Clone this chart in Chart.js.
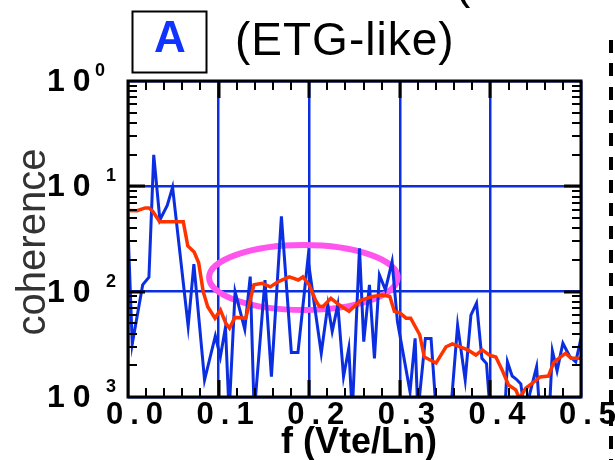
<!DOCTYPE html>
<html>
<head>
<meta charset="utf-8">
<script src="https://cdn.jsdelivr.net/npm/chart.js@4/dist/chart.umd.min.js"></script>
<style>
html,body{margin:0;padding:0;background:#fff;}
canvas{display:block;}
</style>
</head>
<body>
<canvas id="c" width="615" height="460"></canvas>
<script>
// ---- data ----
const freqBlue = [0.000,0.0047,0.0162,0.0231,0.0284,0.0352,0.0433,0.0492,0.0664,0.0727,0.0845,0.0964,0.1019,0.1076,0.1116,0.1182,0.1289,0.1349,0.1393,0.1512,0.1583,0.1693,0.1803,0.1876,0.1986,0.2133,0.2206,0.2254,0.2316,0.2379,0.2437,0.2475,0.2555,0.2602,0.2665,0.2720,0.2775,0.2841,0.2915,0.2974,0.3113,0.3169,0.3199,0.3282,0.3345,0.3403,0.3560,0.3638,0.3722,0.3785,0.3847,0.3906,0.3957,0.3998,0.4158,0.4188,0.4240,0.4284,0.4336,0.4380,0.4510,0.4545,0.4650,0.4684,0.4736,0.4800,0.4873,0.4942,0.5000];
const cohBlue  = [0.040,0.0032,0.0116,0.0137,0.199,0.048,0.066,0.098,0.0047,0.0183,0.00145,0.0038,0.0024,0.0046,0.0007,0.0100,0.0044,0.0139,0.0007,0.0129,0.00156,0.052,0.00265,0.00265,0.0205,0.0026,0.0075,0.0042,0.0075,0.00156,0.0029,0.0007,0.0258,0.00335,0.0116,0.00233,0.0144,0.0104,0.0193,0.0052,0.00112,0.0036,0.0007,0.0036,0.0036,0.0007,0.0007,0.0048,0.00145,0.0060,0.0078,0.00233,0.00208,0.0007,0.0007,0.00216,0.00158,0.00148,0.00133,0.0007,0.00194,0.0007,0.0007,0.00274,0.00177,0.00324,0.00245,0.00216,0.0036];
const freqRed = [0.000,0.010,0.019,0.023,0.027,0.035,0.061,0.066,0.073,0.078,0.083,0.088,0.096,0.102,0.108,0.112,0.118,0.130,0.139,0.148,0.157,0.166,0.178,0.188,0.193,0.200,0.207,0.211,0.215,0.224,0.233,0.244,0.257,0.270,0.281,0.289,0.294,0.300,0.307,0.312,0.322,0.327,0.340,0.351,0.358,0.375,0.384,0.391,0.399,0.406,0.413,0.420,0.428,0.432,0.439,0.446,0.455,0.464,0.470,0.478,0.483,0.489,0.500];
const cohRed  = [0.059,0.0588,0.0624,0.0624,0.0583,0.0462,0.0462,0.0272,0.0238,0.0188,0.0100,0.0072,0.0056,0.0067,0.0050,0.0045,0.0057,0.0056,0.0116,0.0120,0.0111,0.01245,0.0138,0.0129,0.0138,0.0116,0.0083,0.0073,0.0072,0.00865,0.0075,0.0065,0.0083,0.0090,0.0093,0.0090,0.0065,0.0063,0.0056,0.0056,0.0039,0.0024,0.0021,0.0030,0.0032,0.0028,0.0025,0.0028,0.0025,0.0024,0.0018,0.0013,0.00117,0.00097,0.00121,0.00135,0.00155,0.00158,0.00213,0.00242,0.0026,0.00233,0.00233];
const xTickValues = [0, 0.1, 0.2, 0.3, 0.4, 0.5];
const xTickLabels = ['0.0','0.1','0.2','0.3','0.4','0.5'];
const yDecades = [1, 0.1, 0.01, 0.001];
const yExponents = ['0','1','2','3'];
const ellipseFreq = [0.0895, 0.2976];
const ellipseCoh = [0.0067, 0.0277];
const panelLetter = 'A';
const panelTitle = '(ETG-like)';
const xTitle = 'f (Vte/Ln)';
const yTitle = 'coherence';

const BLUE = '#0a2ee0', RED = '#ff3300', MAG = '#ff55ee', FONT = '"Liberation Sans", Arial, Helvetica, sans-serif';

function pts(xs, ys){ return xs.map((x,i)=>({x:x, y:ys[i]})); }

const decor = {
  id: 'decor',
  beforeDatasetsDraw(chart){
    const {ctx, scales:{x, y}} = chart;
    const x0 = x.getPixelForValue(ellipseFreq[0]), x1 = x.getPixelForValue(ellipseFreq[1]);
    const y0 = y.getPixelForValue(ellipseCoh[0]), y1 = y.getPixelForValue(ellipseCoh[1]);
    ctx.save();
    ctx.strokeStyle = MAG; ctx.lineWidth = 6;
    ctx.beginPath();
    ctx.ellipse((x0+x1)/2, (y0+y1)/2, Math.abs(x1-x0)/2, Math.abs(y1-y0)/2, 0, 0, Math.PI*2);
    ctx.stroke();
    ctx.restore();
  },
  afterDatasetsDraw(chart){
    const {ctx, chartArea:{left,right,top,bottom}, scales:{x, y}} = chart;
    ctx.save();
    ctx.strokeStyle = '#000';
    ctx.lineWidth = 2;
    ctx.beginPath();
    for (let i=1;i<25;i++){
      if (i%5===0) continue;
      const px = Math.round(x.getPixelForValue(i*0.02));
      ctx.moveTo(px, top); ctx.lineTo(px, top+9);
      ctx.moveTo(px, bottom); ctx.lineTo(px, bottom-9);
    }
    [0.001,0.01,0.1].forEach(d=>{
      for (let m=2;m<=9;m++){
        const py = Math.round(y.getPixelForValue(m*d));
        ctx.moveTo(left, py); ctx.lineTo(left+9, py);
        ctx.moveTo(right, py); ctx.lineTo(right-9, py);
      }
    });
    ctx.stroke();
    ctx.lineWidth = 3;
    ctx.beginPath();
    xTickValues.slice(1,-1).forEach(v=>{
      const px = Math.round(x.getPixelForValue(v));
      ctx.moveTo(px, top); ctx.lineTo(px, top+17);
      ctx.moveTo(px, bottom); ctx.lineTo(px, bottom-17);
    });
    yDecades.slice(1,-1).forEach(v=>{
      const py = Math.round(y.getPixelForValue(v));
      ctx.moveTo(left, py); ctx.lineTo(left+17, py);
      ctx.moveTo(right, py); ctx.lineTo(right-17, py);
    });
    ctx.stroke();
    ctx.lineWidth = 3;
    ctx.strokeRect(left, top, right-left, bottom-top);
    ctx.restore();
  },
  afterDraw(chart){
    const {ctx, scales:{x, y}} = chart;
    ctx.save();
    ctx.fillStyle = '#000';
    ctx.font = 'bold 31px ' + FONT;
    ctx.textBaseline = 'alphabetic';
    ctx.textAlign = 'left';
    ctx.letterSpacing = '7px';
    xTickValues.forEach((v,i)=>{
      const px = x.getPixelForValue(v);
      ctx.fillText(xTickLabels[i], px - 22, 424);
    });
    yDecades.forEach((v,i)=>{
      const py = y.getPixelForValue(v);
      ctx.font = 'bold 32px ' + FONT;
      ctx.letterSpacing = '8px';
      ctx.fillText('10', 47, py + 10);
      ctx.font = 'bold 18px ' + FONT;
      ctx.letterSpacing = '0px';
      ctx.fillText(yExponents[i], i===0 ? 95 : 106, py - 5);
    });
    ctx.letterSpacing = '0px';
    ctx.font = 'bold 36px ' + FONT;
    ctx.textAlign = 'center';
    ctx.fillText(xTitle, 359, 453);
    ctx.save();
    ctx.fillStyle = '#333';
    ctx.font = '40px ' + FONT;
    ctx.translate(45, 242);
    ctx.rotate(-Math.PI/2);
    ctx.textAlign = 'center';
    ctx.fillText(yTitle, 0, 0);
    ctx.restore();
    ctx.lineWidth = 2;
    ctx.strokeStyle = '#000';
    ctx.strokeRect(132.5, 11.5, 74, 61);
    ctx.fillStyle = '#1133ff';
    ctx.font = 'bold 44px ' + FONT;
    ctx.textAlign = 'center';
    ctx.fillText(panelLetter, 170, 52);
    ctx.fillStyle = '#000';
    ctx.font = '46px ' + FONT;
    ctx.textAlign = 'left';
    ctx.letterSpacing = '1px';
    ctx.fillText(panelTitle, 235, 55);
    ctx.letterSpacing = '0px';
    ctx.fillText('(', 455, -2);
    for (let yy = 40; yy < 460; yy += 23.3) ctx.fillRect(609, Math.round(yy), 4, 13);
    ctx.restore();
  }
};

new Chart(document.getElementById('c'), {
  type: 'line',
  data: {
    datasets: [
      { data: pts(freqRed, cohRed), borderColor: RED, borderWidth: 3.5, pointRadius: 0, fill: false, tension: 0, order: 0, clip: 0 },
      { data: pts(freqBlue, cohBlue), borderColor: BLUE, borderWidth: 3, pointRadius: 0, fill: false, tension: 0, order: 1, clip: 0 }
    ]
  },
  options: {
    responsive: false,
    devicePixelRatio: 1,
    animation: false,
    events: [],
    layout: { padding: { left: 128, right: 34, top: 81, bottom: 63 } },
    plugins: { legend: { display: false }, tooltip: { enabled: false } },
    scales: {
      x: {
        type: 'linear', min: 0, max: 0.5,
        ticks: { display: false, stepSize: 0.1 },
        grid: { color: BLUE, lineWidth: 2.5, drawTicks: false },
        border: { display: false }
      },
      y: {
        type: 'logarithmic', min: 0.001, max: 1,
        afterBuildTicks: (s) => { s.ticks = yDecades.map(v => ({ value: v })); },
        ticks: { display: false },
        grid: { color: BLUE, lineWidth: 2.5, drawTicks: false },
        border: { display: false }
      }
    }
  },
  plugins: [decor]
});
</script>
</body>
</html>
